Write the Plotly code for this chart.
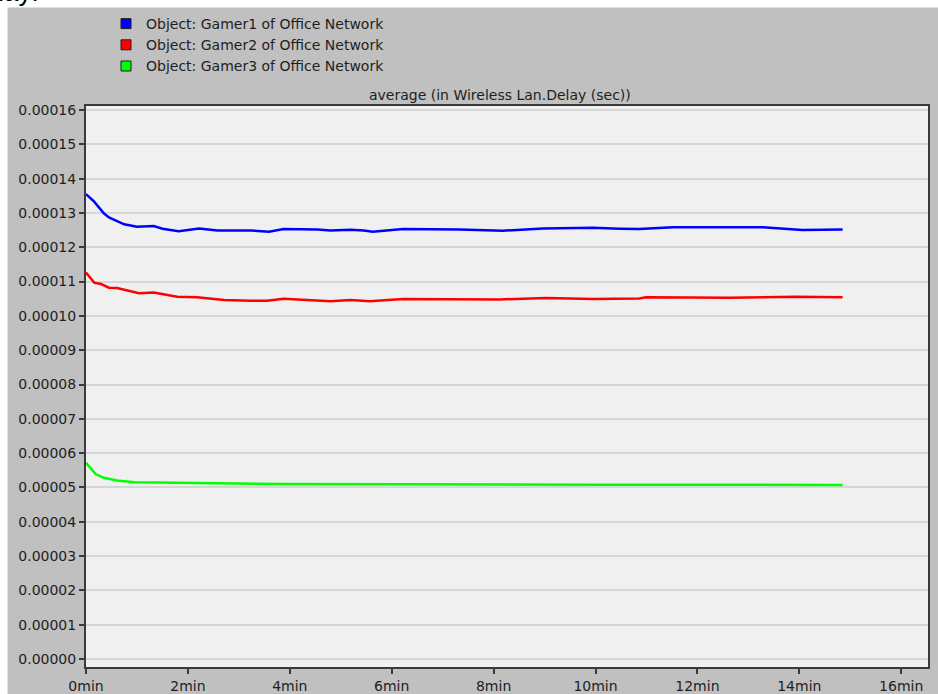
import plotly.graph_objects as go

# ---- data (time in minutes, delay in seconds) ----
gamer1_t = [0, 0.16, 0.35, 0.45, 0.75, 1.0, 1.33, 1.5, 1.82, 2.22, 2.58, 3.23, 3.59, 3.88,
            4.54, 4.8, 5.19, 5.45, 5.63, 6.22, 7.33, 8.18, 8.97, 9.95, 10.47, 10.86, 11.52,
            13.28, 14.06, 14.85]
gamer1_v = [0.0001355, 0.0001333, 0.0001299, 0.0001287, 0.0001267, 0.0001260, 0.0001262,
            0.0001254, 0.0001247, 0.0001255, 0.0001249, 0.0001249, 0.0001245, 0.0001253,
            0.0001252, 0.0001249, 0.0001251, 0.0001249, 0.0001245, 0.0001253, 0.0001252,
            0.0001248, 0.0001255, 0.0001257, 0.0001254, 0.0001253, 0.0001258, 0.0001258,
            0.0001250, 0.0001252]

gamer2_t = [0, 0.16, 0.29, 0.45, 0.61, 0.81, 1.04, 1.33, 1.79, 2.18, 2.71, 3.23, 3.55, 3.88,
            4.54, 4.8, 5.19, 5.57, 6.22, 7.33, 8.12, 9.03, 9.95, 10.86, 10.99, 12.63, 13.94,
            14.85]
gamer2_v = [0.0001126, 0.0001097, 0.0001093, 0.0001082, 0.0001081, 0.0001075, 0.0001066,
            0.0001068, 0.0001056, 0.0001054, 0.0001046, 0.0001044, 0.0001044, 0.0001050,
            0.0001046, 0.0001043, 0.0001046, 0.0001043, 0.0001049, 0.0001049, 0.0001048,
            0.0001052, 0.0001049, 0.0001051, 0.0001054, 0.0001053, 0.0001056, 0.0001054]

gamer3_t = [0, 0.09, 0.19, 0.35, 0.61, 0.94, 1.59, 2.58, 3.88, 5.45, 7.5, 10.0, 12.5, 14.85]
gamer3_v = [0.0000572, 0.0000556, 0.0000539, 0.0000528, 0.0000520, 0.0000515, 0.0000513,
            0.0000512, 0.0000510, 0.0000509, 0.0000509, 0.0000508, 0.0000508, 0.0000507]

series_names = ["Object: Gamer1 of Office Network",
                "Object: Gamer2 of Office Network",
                "Object: Gamer3 of Office Network"]
series_colors = ["#0000ff", "#ff0000", "#00ff00"]

x_tickvals = [0, 2, 4, 6, 8, 10, 12, 14, 16]
x_ticktext = ["0min", "2min", "4min", "6min", "8min", "10min", "12min", "14min", "16min"]

chart_title = "average (in Wireless Lan.Delay (sec))"

# ---- layout geometry (pixels) ----
W, H = 938, 694
L, R, T, B = 86, 10, 106, 27
PW, PH = W - L - R, H - T - B


def px(x):
    return (x - L) / PW


def py(y):
    return (H - B - y) / PH


FONT = "DejaVu Sans"
TXT = "#1e1e1e"

fig = go.Figure()
for t, v, c in zip([gamer1_t, gamer2_t, gamer3_t], [gamer1_v, gamer2_v, gamer3_v], series_colors):
    fig.add_trace(go.Scatter(x=t, y=v, mode="lines", line=dict(color=c, width=2.5),
                             showlegend=False, hoverinfo="skip"))

for i, (n, c) in enumerate(zip(series_names, series_colors)):
    fig.add_trace(go.Scatter(x=[None], y=[None], mode="markers", name=n,
                             legendgroup="g%d" % i,
                             marker=dict(symbol="square", size=10, color=c,
                                         line=dict(color="#202020", width=1))))

fig.update_layout(
    width=W, height=H,
    margin=dict(l=L, r=R, t=T, b=B, pad=0, autoexpand=False),
    paper_bgcolor="#c0c0c0",
    plot_bgcolor="#f0f0f0",
    font=dict(family=FONT, size=14, color=TXT),
    legend=dict(x=px(106), y=py(8), xanchor="left", yanchor="top",
                bgcolor="rgba(0,0,0,0)", borderwidth=0, tracegroupgap=0,
                font=dict(family=FONT, size=14, color=TXT), itemwidth=30),
    xaxis=dict(range=[0, PW / 50.95], tickvals=x_tickvals, ticktext=x_ticktext,
               automargin=False,
               showgrid=False, zeroline=False, showline=True, mirror=True,
               linecolor="#3a3a3a", linewidth=2, ticks="outside", ticklen=5,
               tickwidth=1.5, tickcolor="#3a3a3a",
               tickfont=dict(family=FONT, size=14, color=TXT)),
    yaxis=dict(range=[-0.00000233, 0.00016117], dtick=0.00001, tick0=0,
               automargin=False,
               tickformat=".5f", showgrid=True, gridcolor="#d6d6d6", gridwidth=1.5,
               zeroline=False, showline=True, mirror=True,
               linecolor="#3a3a3a", linewidth=2, ticks="outside", ticklen=5,
               tickwidth=1.5, tickcolor="#3a3a3a",
               tickfont=dict(family=FONT, size=14, color=TXT)),
    shapes=[
        dict(type="rect", xref="paper", yref="paper", x0=px(0), x1=px(7.5),
             y0=py(H), y1=py(0), fillcolor="white", line=dict(width=0), layer="below"),
        dict(type="rect", xref="paper", yref="paper", x0=px(0), x1=px(W),
             y0=py(7.5), y1=py(0), fillcolor="white", line=dict(width=0), layer="below"),
    ],
    annotations=[
        dict(text=chart_title, xref="paper", yref="paper", x=px(500), y=py(95),
             xanchor="center", yanchor="middle", showarrow=False,
             font=dict(family=FONT, size=14, color=TXT)),
        dict(text="Delay:", xref="paper", yref="paper", x=px(41), y=py(9),
             xanchor="right", yanchor="bottom", showarrow=False,
             font=dict(family="Liberation Sans", size=26, color="black")),
    ],
)

fig.write_html("out.html", config={"displayModeBar": False},
               post_script="document.body.style.margin='0';")
